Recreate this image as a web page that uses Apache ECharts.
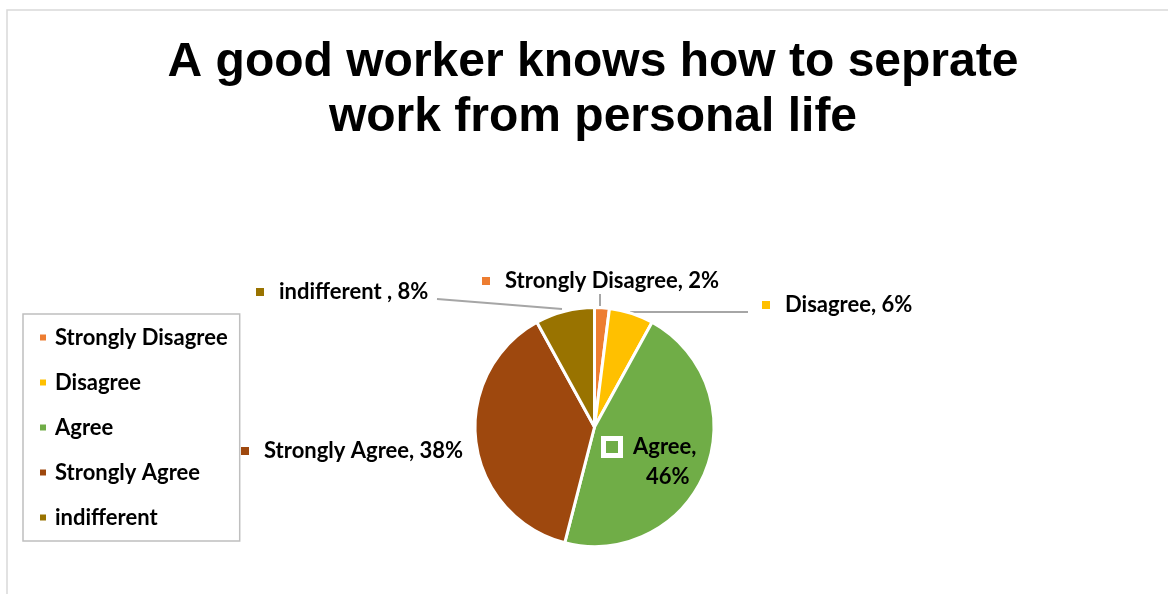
<!DOCTYPE html>
<html>
<head>
<meta charset="utf-8">
<script src="https://cdn.jsdelivr.net/npm/echarts@6/dist/echarts.min.js"></script>
<style>
  html, body { margin: 0; padding: 0; background: #fff; }
  #chart { width: 1168px; height: 594px; }
</style>
</head>
<body>
<div id="chart"></div>
<script>
// Survey answers and their shares (percent)
const categories = ['Strongly Disagree', 'Disagree', 'Agree', 'Strongly Agree', 'indifferent '];
const values = [2, 6, 46, 38, 8];
const colors = ['#ED7D31', '#FFC000', '#70AD47', '#9E480E', '#997300'];

const FONT = 'Lato, "Open Sans", sans-serif';
const LABEL_SIZE = 22;

// Label anchor (left edge of marker, vertical middle) and leader lines per slice
const labelSpots = [
  { x: 482, y: 281, line: [[600, 306], [600, 300], [600, 294]] },
  { x: 762, y: 305, line: [[630, 312], [690, 312], [748, 312]] },
  { x: 606, y: 432, top: true },
  { x: 241, y: 451 },
  { x: 256, y: 292, line: [[562, 309], [500, 304], [437, 299]] }
];

const chart = echarts.init(document.getElementById('chart'), null, { renderer: 'canvas' });

const pieData = categories.map((name, i) => {
  const item = {
    name: name,
    value: values[i],
    itemStyle: { color: colors[i] },
    labelLine: { show: !!labelSpots[i].line }
  };
  if (name === 'Agree') {
    item.label = {
      formatter: (p) => '{w|}{t|' + p.name + ',}\n{t2|' + p.value + '%}',
      rich: {
        w: { width: 12, height: 12, backgroundColor: colors[i], borderColor: '#fff', borderWidth: 5 },
        t: { fontFamily: FONT, fontWeight: 'bold', fontSize: LABEL_SIZE, color: '#000', lineHeight: 30, padding: [0, 0, 0, 15] },
        t2: { fontFamily: FONT, fontWeight: 'bold', fontSize: LABEL_SIZE, color: '#000', lineHeight: 30, padding: [0, 0, 0, 40] }
      }
    };
  }
  return item;
});

chart.setOption({
  backgroundColor: '#fff',
  animation: false,
  title: {
    text: 'A good worker knows how to seprate\nwork from personal life',
    left: 588,
    top: 30,
    textAlign: 'center',
    textStyle: {
      fontFamily: '"Liberation Sans", Arial, sans-serif',
      fontWeight: 'bold',
      fontSize: 48,
      lineHeight: 55,
      color: '#000'
    }
  },
  legend: {
    orient: 'vertical',
    left: 23,
    top: 314,
    icon: 'rect',
    itemWidth: 8,
    itemHeight: 8,
    itemGap: 20,
    padding: [11, 12, 11, 15],
    borderColor: '#bfbfbf',
    borderWidth: 1.5,
    data: categories,
    textStyle: {
      fontFamily: FONT,
      fontWeight: 'bold',
      fontSize: LABEL_SIZE,
      lineHeight: 25,
      color: '#000',
      padding: [0, 0, 0, 3]
    }
  },
  graphic: [{
    type: 'rect',
    shape: { x: 7, y: 10, width: 1300, height: 700 },
    style: { fill: 'none', stroke: '#d9d9d9', lineWidth: 1.5 },
    silent: true,
    z: -1
  }],
  series: [{
    type: 'pie',
    center: [594.5, 427],
    radius: 119.5,
    startAngle: 90,
    clockwise: true,
    avoidLabelOverlap: false,
    itemStyle: { borderColor: '#fff', borderWidth: 3 },
    label: {
      show: true,
      position: 'outside',
      formatter: (p) => '{m|}{t|' + p.name + ', ' + p.value + '%}',
      rich: {
        m: { width: 8, height: 8, backgroundColor: 'inherit' },
        t: { fontFamily: FONT, fontWeight: 'bold', fontSize: LABEL_SIZE, color: '#000', padding: [0, 0, 0, 15] }
      }
    },
    labelLine: { lineStyle: { color: '#a6a6a6', width: 2 } },
    labelLayout: (params) => {
      const s = labelSpots[params.dataIndex];
      const out = { x: s.x, y: s.y, align: 'left', verticalAlign: s.top ? 'top' : 'middle' };
      if (s.line) out.labelLinePoints = s.line;
      return out;
    },
    emphasis: { disabled: true },
    data: pieData
  }]
});
</script>
</body>
</html>
